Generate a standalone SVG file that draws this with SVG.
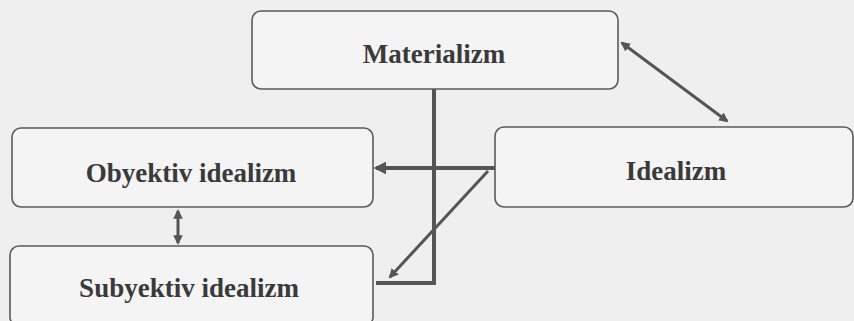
<svg xmlns="http://www.w3.org/2000/svg" width="854" height="321" viewBox="0 0 854 321">
<defs>
<style>
.box{fill:#f4f4f4;stroke:#5a5a5a;stroke-width:1.6}
.lbl{font-family:"Liberation Serif","Times New Roman",serif;font-weight:bold;font-size:27px;fill:#3a3a3a;text-anchor:middle}
.thick{stroke:#555;stroke-width:4;fill:none}
.thin{stroke:#555;stroke-width:3;fill:none}
</style>
<marker id="ah" viewBox="0 0 10 10" refX="8" refY="5" markerWidth="3.2" markerHeight="3.2" orient="auto-start-reverse">
<path d="M0,0 L10,5 L0,10 z" fill="#555"/>
</marker>
</defs>
<rect width="854" height="321" fill="#efefef"/>
<g id="connectors">
<path class="thick" d="M434,89 V283 H376"/>
<path class="thick" d="M495,168 H376" marker-end="url(#ah)"/>
<path class="thin" d="M488,171 L390,277" marker-end="url(#ah)"/>
<path class="thin" d="M178,211 V243" marker-start="url(#ah)" marker-end="url(#ah)"/>
<path class="thin" d="M622,43 L727,121" marker-start="url(#ah)" marker-end="url(#ah)"/>
</g>
<g id="materializm">
<rect class="box" x="252" y="11" width="366" height="78" rx="9"/>
<text class="lbl" x="434" y="63">Materializm</text>
</g>
<g id="obyektiv">
<rect class="box" x="12" y="128" width="361" height="79" rx="9"/>
<text class="lbl" x="191" y="182">Obyektiv idealizm</text>
</g>
<g id="idealizm">
<rect class="box" x="495" y="127" width="358" height="80" rx="9"/>
<text class="lbl" x="676" y="180">Idealizm</text>
</g>
<g id="subyektiv">
<rect class="box" x="10" y="246" width="363" height="80" rx="9"/>
<text class="lbl" x="189" y="297">Subyektiv idealizm</text>
</g>
</svg>
